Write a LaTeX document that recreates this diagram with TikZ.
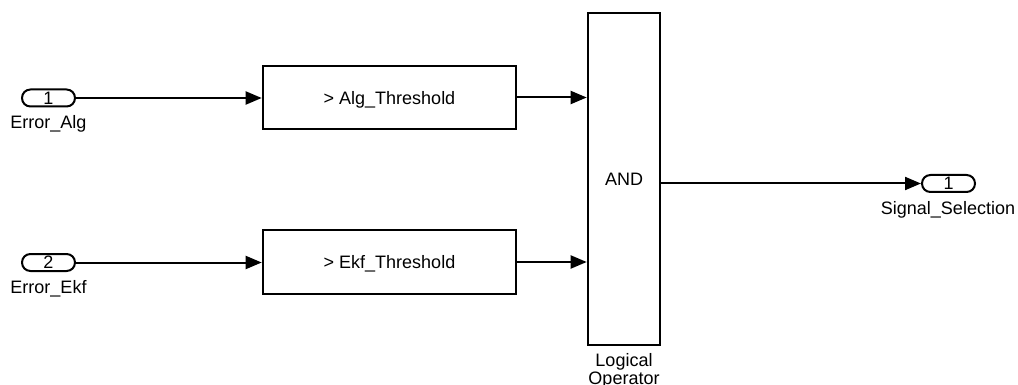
\documentclass[tikz,border=0pt]{standalone}
\usepackage{fontspec}
\setmainfont{Liberation Sans}
\usetikzlibrary{arrows.meta,positioning}

\begin{document}
\begin{tikzpicture}[x=0.5pt,y=-0.5pt,
    font=\fontsize{9}{9}\selectfont,
    port/.style={draw,line width=1pt,rounded corners=4.2pt,minimum width=26.5pt,minimum height=8.5pt,inner sep=0pt},
    blk/.style={draw,line width=1.3pt,inner sep=0pt,text depth=0pt},
    lbl/.style={anchor=base,inner sep=0pt},
    sig/.style={line width=1pt,-{Triangle[length=8pt,width=6.5pt]}}]
  \useasboundingbox (0,0) rectangle (1018,385);
  % inports
  \node[port] (in1) at (48.5,98) {1};
  \node[lbl] (in1lbl) at (48.5,129) {Error\_Alg};
  \node[port] (in2) at (48.5,262.5) {2};
  \node[lbl] (in2lbl) at (48.5,293) {Error\_Ekf};
  % compare blocks
  \node[blk,minimum width=126.5pt,minimum height=31.5pt] (cmp1) at (389.5,97.5) {> Alg\_Threshold};
  \node[blk,minimum width=126.5pt,minimum height=32pt] (cmp2) at (389.5,262) {> Ekf\_Threshold};
  % logical operator
  \node[blk,minimum width=36pt,minimum height=166pt] (andop) at (624,179) {AND};
  \node[lbl] (andlbl1) at (624,366) {Logical};
  \node[lbl] (andlbl2) at (624,384) {Operator};
  % outport
  \node[port] (out1) at (948.5,183.5) {1};
  \node[lbl] (out1lbl) at (948,214) {Signal\_Selection};
  % signal lines
  \draw[sig] (in1.east) -- (in1.east -| cmp1.west);
  \draw[sig] (in2.east) -- (in2.east -| cmp2.west);
  \draw[sig] (cmp1.east) -- (cmp1.east -| andop.west);
  \draw[sig] (cmp2.east) -- (cmp2.east -| andop.west);
  \draw[sig] (andop.east |- out1) -- (out1.west);
\end{tikzpicture}
\end{document}
